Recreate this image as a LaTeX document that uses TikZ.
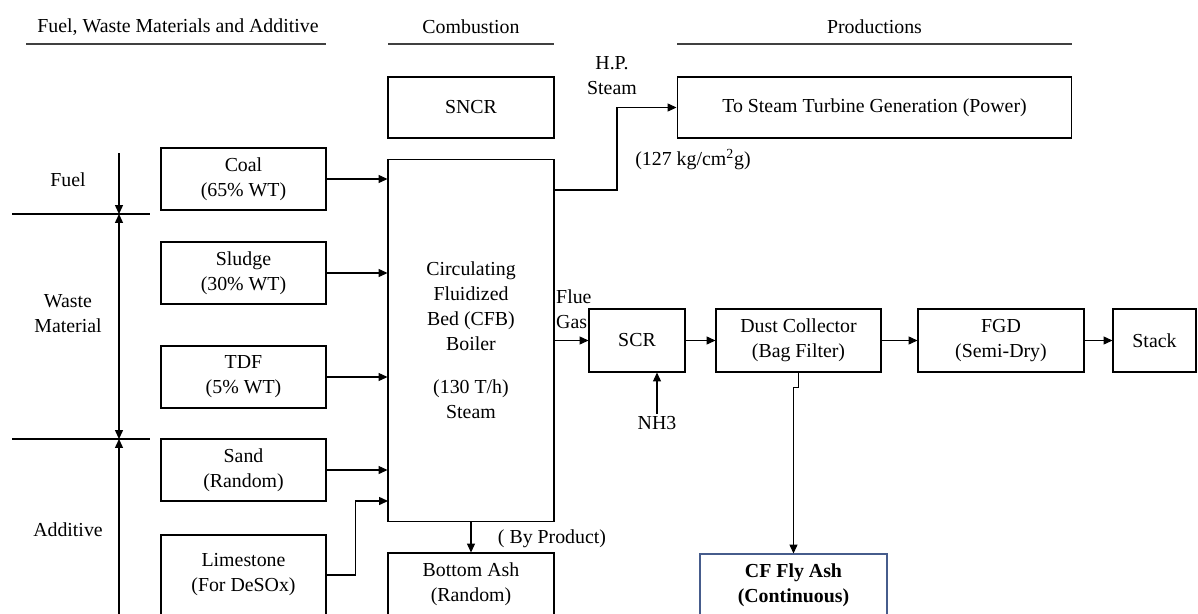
\documentclass[tikz,border=0pt]{standalone}
\usepackage{fontspec}
\setmainfont{Liberation Serif}
\usetikzlibrary{arrows.meta}
\definecolor{ashblue}{RGB}{70,92,140}
\tikzset{
  blk/.style={draw, line width=0.6pt, align=center, inner sep=1pt},
  arr/.style={line width=0.6pt, -{Triangle[length=5pt,width=4.5pt]}},
  lbl/.style={align=center, inner sep=1pt},
}
\begin{document}
\begin{tikzpicture}[x=0.02cm, y=-0.02cm,
    every node/.style={font=\fontsize{11.3}{14.2}\selectfont}]
  \clip (0,0) rectangle (1198,613);
  % headings
  \node[lbl] (hfeed) at (178,27) {Fuel, Waste Materials and Additive};
  \node[lbl] (hcomb) at (471,27) {Combustion};
  \node[lbl] (hprod) at (874.5,27) {Productions};
  \draw[black!75, line width=0.6pt] (26,44) -- (326,44);
  \draw[black!75, line width=0.6pt] (388,44) -- (554,44);
  \draw[black!75, line width=0.6pt] (677,44) -- (1072,44);
  % feed groups on the left
  \node[lbl] (gfuel) at (68,180) {Fuel};
  \node[lbl] (gwaste) at (68,314) {Waste\\Material};
  \node[lbl] (gadd) at (68,530) {Additive};
  \draw[line width=0.6pt] (12,214) -- (150,214);
  \draw[line width=0.6pt] (12,439) -- (150,439);
  \draw[arr] (119,153) -- (119,214);
  \draw[line width=0.6pt, {Triangle[length=5pt,width=4.5pt]}-{Triangle[length=5pt,width=4.5pt]}] (119,214) -- (119,439);
  \draw[line width=0.6pt, {Triangle[length=5pt,width=4.5pt]}-] (119,439) -- (119,640);
  % feed boxes
  \node[blk, minimum width=3.3cm, minimum height=1.24cm] (coal) at (243.5,179) {Coal\\(65\% WT)};
  \node[blk, minimum width=3.3cm, minimum height=1.24cm] (sludge) at (243.5,273) {Sludge\\(30\% WT)};
  \node[blk, minimum width=3.3cm, minimum height=1.24cm] (tdf) at (243.5,377) {TDF\\(5\% WT)};
  \node[blk, minimum width=3.3cm, minimum height=1.24cm] (sand) at (243.5,470) {Sand\\(Random)};
  \node[blk, minimum width=3.3cm, minimum height=1.6cm] (lime) at (243.5,575) {Limestone\\(For DeSOx)};
  % combustion
  \node[blk, minimum width=3.32cm, minimum height=1.22cm] (sncr) at (471,107.5) {SNCR};
  \node[blk, minimum width=3.32cm, minimum height=7.26cm] (cfb) at (471,340.5)
    {Circulating\\Fluidized\\Bed (CFB)\\Boiler\\[10.5pt](130 T/h)\\Steam};
  \node[blk, minimum width=3.32cm, minimum height=1.24cm] (btmash) at (471,584) {Bottom Ash\\(Random)};
  % productions
  \node[blk, minimum width=7.9cm, minimum height=1.22cm] (turbine) at (874.5,107.5) {To Steam Turbine Generation (Power)};
  \node[blk, minimum width=1.92cm, minimum height=1.26cm] (scr) at (637,340.5) {SCR};
  \node[blk, minimum width=3.3cm, minimum height=1.26cm] (dust) at (798.5,340.5) {Dust Collector\\(Bag Filter)};
  \node[blk, minimum width=3.32cm, minimum height=1.26cm] (fgd) at (1001,340.5) {FGD\\(Semi-Dry)};
  \node[blk, minimum width=1.66cm, minimum height=1.26cm] (stack) at (1154.5,340.5) {Stack};
  \node[blk, draw=ashblue, minimum width=3.74cm, minimum height=1.24cm] (flyash) at (793.5,585)
    {\textbf{CF Fly Ash}\\\textbf{(Continuous)}};
  % labels
  \node[lbl] (hpsteam) at (612,75.5) {H.P.\\Steam};
  \node[lbl] (press) at (693,160) {(127 kg/cm\textsuperscript{2}g)};
  \node[lbl, align=left, anchor=west, inner sep=0.5pt] (flue) at (555,309.5) {Flue\\Gas};
  \node[lbl] (byprod) at (552,539) {( By Product)};
  \node[lbl] (nh3) at (657,423) {NH3};
  \coordinate (steamout) at (554,190);
  \coordinate (limein) at (388,501);
  % flows into the boiler
  \draw[arr] (coal.east) -- (coal.east -| cfb.west);
  \draw[arr] (sludge.east) -- (sludge.east -| cfb.west);
  \draw[arr] (tdf.east) -- (tdf.east -| cfb.west);
  \draw[arr] (sand.east) -- (sand.east -| cfb.west);
  \draw[arr] (lime.east) -- ++(29,0) |- (limein);
  % steam and flue gas
  \draw[arr] (steamout) -- ++(63,0) |- (turbine.west);
  \draw[arr] (cfb.east) -- (scr.west);
  \draw[arr] (scr.east) -- (dust.west);
  \draw[arr] (dust.east) -- (fgd.west);
  \draw[arr] (fgd.east) -- (stack.west);
  \draw[arr] (nh3.north) -- (nh3.north |- scr.south);
  \draw[arr] (dust.south) -- ++(0,15) -| (flyash.north);
  \draw[arr] (cfb.south) -- (btmash.north);
\end{tikzpicture}
\end{document}
